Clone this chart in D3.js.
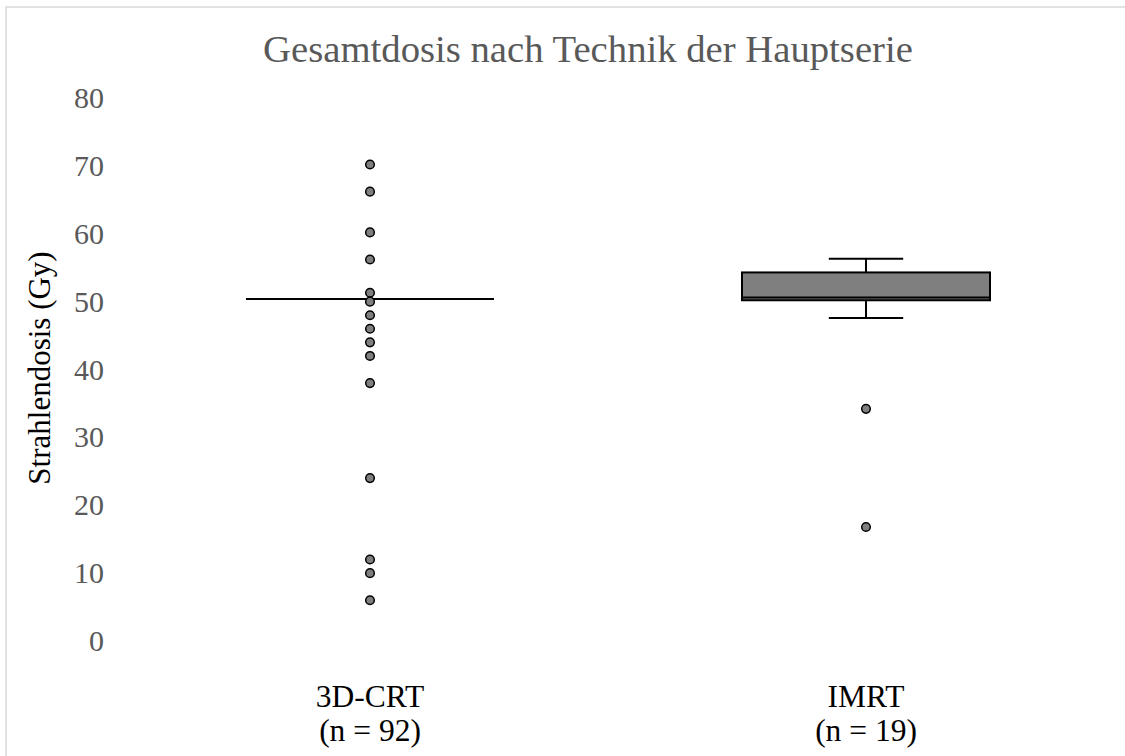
<!DOCTYPE html>
<html>
<head>
<meta charset="utf-8">
<script src="https://cdn.jsdelivr.net/npm/d3@7"></script>
<style>
  body { margin: 0; background: #fff; }
  svg { display: block; font-family: "Liberation Serif", "Times New Roman", serif; }
</style>
</head>
<body>
<div id="chart"></div>
<script>
// Daten
const categories = ["3D-CRT", "IMRT"];
const nLabels = ["(n = 92)", "(n = 19)"];
const whiskerLow = [50.4, 47.6];
const q1 = [50.4, 50.2];
const median = [50.4, 50.6];
const q3 = [50.4, 54.3];
const whiskerHigh = [50.4, 56.3];
const outliersCRT = [70.2, 66.2, 60.2, 56.2, 51.3, 50.0, 48, 46, 44, 42, 38, 24, 12, 10, 6];
const outliersIMRT = [34.2, 16.8];
const yTicks = [0, 10, 20, 30, 40, 50, 60, 70, 80];

const W = 1125, H = 756;
const svg = d3.select("#chart").append("svg")
    .attr("width", W)
    .attr("height", H);

// Rahmen
svg.append("rect")
    .attr("x", 6)
    .attr("y", 7)
    .attr("width", W + 20)
    .attr("height", H + 20)
    .attr("fill", "#fff")
    .attr("stroke", "#d9d9d9")
    .attr("stroke-width", 1.5);

const x = d3.scaleBand()
    .domain(categories)
    .range([122, 1114])
    .padding(0);

const y = d3.scaleLinear()
    .domain([0, 80])
    .range([641, 98]);

const boxW = x.bandwidth() * 0.5;
const capW = x.bandwidth() * 0.15;

// y-Achse (nur Beschriftungen)
const yAxis = svg.append("g")
    .attr("transform", "translate(104,0)")
    .call(d3.axisLeft(y).tickValues(yTicks).tickSize(0).tickPadding(0));
yAxis.select(".domain").remove();
yAxis.selectAll("text")
    .attr("fill", "#595959")
    .style("font-size", "30px")
    .style("font-family", "Liberation Serif, serif");

// Titel
svg.append("text")
    .attr("x", 588)
    .attr("y", 62)
    .attr("text-anchor", "middle")
    .attr("fill", "#595959")
    .style("font-size", "38.7px")
    .text("Gesamtdosis nach Technik der Hauptserie");

// y-Achsentitel
svg.append("text")
    .attr("transform", "translate(50,368) rotate(-90)")
    .attr("text-anchor", "middle")
    .attr("fill", "#000")
    .style("font-size", "31px")
    .text("Strahlendosis (Gy)");

// Kategorien
const cats = svg.append("g").selectAll("g")
    .data(categories)
    .enter().append("g");

cats.append("text")
    .attr("x", d => x(d) + x.bandwidth() / 2)
    .attr("y", 707)
    .attr("text-anchor", "middle")
    .style("font-size", "31.5px")
    .text(d => d);

cats.append("text")
    .attr("x", d => x(d) + x.bandwidth() / 2)
    .attr("y", 741)
    .attr("text-anchor", "middle")
    .style("font-size", "31.5px")
    .text((d, i) => nLabels[i]);

// Boxplots
const boxes = categories.map((c, i) => ({
    cat: c, lo: whiskerLow[i], q1: q1[i], med: median[i], q3: q3[i], hi: whiskerHigh[i]
}));

const bg = svg.append("g").selectAll("g")
    .data(boxes)
    .enter().append("g")
    .attr("transform", d => `translate(${x(d.cat) + x.bandwidth() / 2},0)`);

// Whisker
bg.append("line")
    .attr("x1", 0).attr("x2", 0)
    .attr("y1", d => y(d.hi)).attr("y2", d => y(d.q3))
    .attr("stroke", "#000").attr("stroke-width", 2);
bg.append("line")
    .attr("x1", 0).attr("x2", 0)
    .attr("y1", d => y(d.q1)).attr("y2", d => y(d.lo))
    .attr("stroke", "#000").attr("stroke-width", 2);
bg.filter(d => d.hi > d.q3).append("line")
    .attr("x1", -capW / 2).attr("x2", capW / 2)
    .attr("y1", d => y(d.hi)).attr("y2", d => y(d.hi))
    .attr("stroke", "#000").attr("stroke-width", 2);
bg.filter(d => d.lo < d.q1).append("line")
    .attr("x1", -capW / 2).attr("x2", capW / 2)
    .attr("y1", d => y(d.lo)).attr("y2", d => y(d.lo))
    .attr("stroke", "#000").attr("stroke-width", 2);

// Box
bg.append("rect")
    .attr("x", -boxW / 2)
    .attr("width", boxW)
    .attr("y", d => y(d.q3))
    .attr("height", d => y(d.q1) - y(d.q3))
    .attr("fill", "#7f7f7f")
    .attr("stroke", "#000")
    .attr("stroke-width", 2);

// Median
bg.append("line")
    .attr("x1", -boxW / 2).attr("x2", boxW / 2)
    .attr("y1", d => y(d.med)).attr("y2", d => y(d.med))
    .attr("stroke", "#000").attr("stroke-width", 2);

// Ausreißer
const pts = [];
outliersCRT.forEach(v => pts.push({ cat: categories[0], v: v }));
outliersIMRT.forEach(v => pts.push({ cat: categories[1], v: v }));

svg.append("g").selectAll("circle")
    .data(pts)
    .enter().append("circle")
    .attr("cx", d => x(d.cat) + x.bandwidth() / 2)
    .attr("cy", d => y(d.v))
    .attr("r", 4.3)
    .attr("fill", "#7f7f7f")
    .attr("stroke", "#000")
    .attr("stroke-width", 1.5);
</script>
</body>
</html>
